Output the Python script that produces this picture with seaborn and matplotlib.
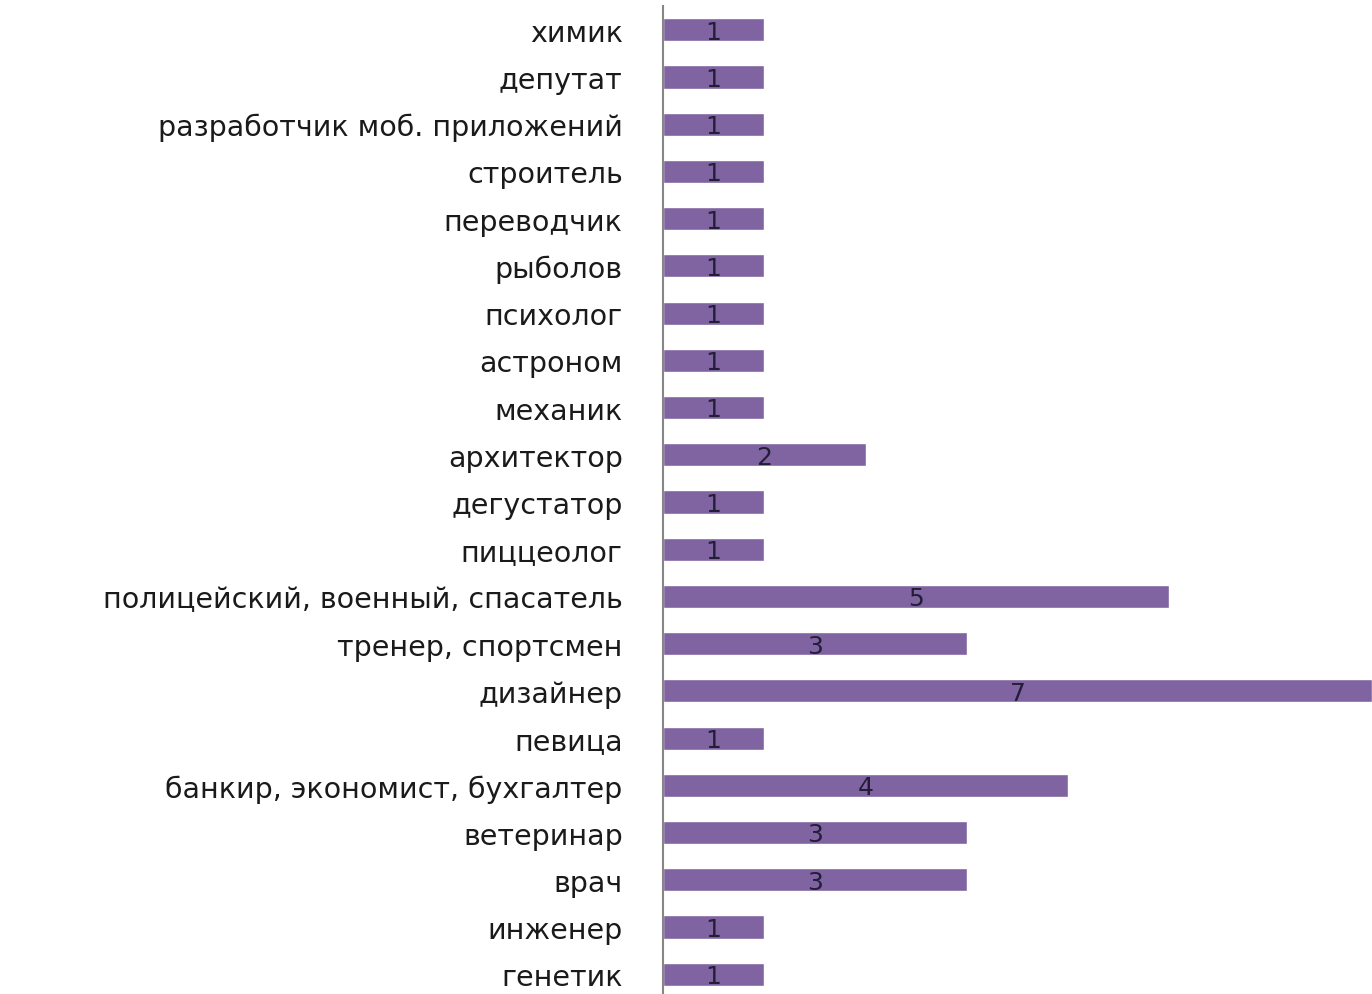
import matplotlib
matplotlib.use("Agg")
import matplotlib.pyplot as plt
import seaborn as sns
import pandas as pd

professions = [
    "химик", "депутат", "разработчик моб. приложений", "строитель",
    "переводчик", "рыболов", "психолог", "астроном", "механик",
    "архитектор", "дегустатор", "пиццеолог",
    "полицейский, военный, спасатель", "тренер, спортсмен", "дизайнер",
    "певица", "банкир, экономист, бухгалтер", "ветеринар", "врач",
    "инженер", "генетик",
]
counts = [1, 1, 1, 1, 1, 1, 1, 1, 1, 2, 1, 1, 5, 3, 7, 1, 4, 3, 3, 1, 1]

bar_color = "#8064A2"

sns.set_style("white")
plt.rcParams["font.family"] = ["DejaVu Sans"]

df = pd.DataFrame({"profession": professions, "count": counts})

fig = plt.figure(figsize=(13.72, 9.95), dpi=100)
ax = fig.add_axes([663 / 1372, 0.0, 1 - 663 / 1372, 1 - 7.2 / 995])
sns.barplot(data=df, x="count", y="profession", order=professions,
            color=bar_color, saturation=1, width=0.49, orient="h", ax=ax)

# value labels centred inside the bars
for i, v in enumerate(counts):
    ax.text(v / 2, i + 0.04, str(v), ha="center", va="center",
            fontsize=18, color="#241d38")

ax.set_xlim(0, 7)
ax.set_ylim(20.42, -0.5)
ax.set_xlabel("")
ax.set_ylabel("")
ax.set_xticks([])
ax.tick_params(axis="y", length=0, pad=29, labelsize=20.5, labelcolor="#1a1a1a")
for s in ["top", "right", "bottom"]:
    ax.spines[s].set_visible(False)
ax.spines["left"].set_color("#868686")
ax.spines["left"].set_linewidth(1.5)

fig.savefig("out.png", dpi=100)
